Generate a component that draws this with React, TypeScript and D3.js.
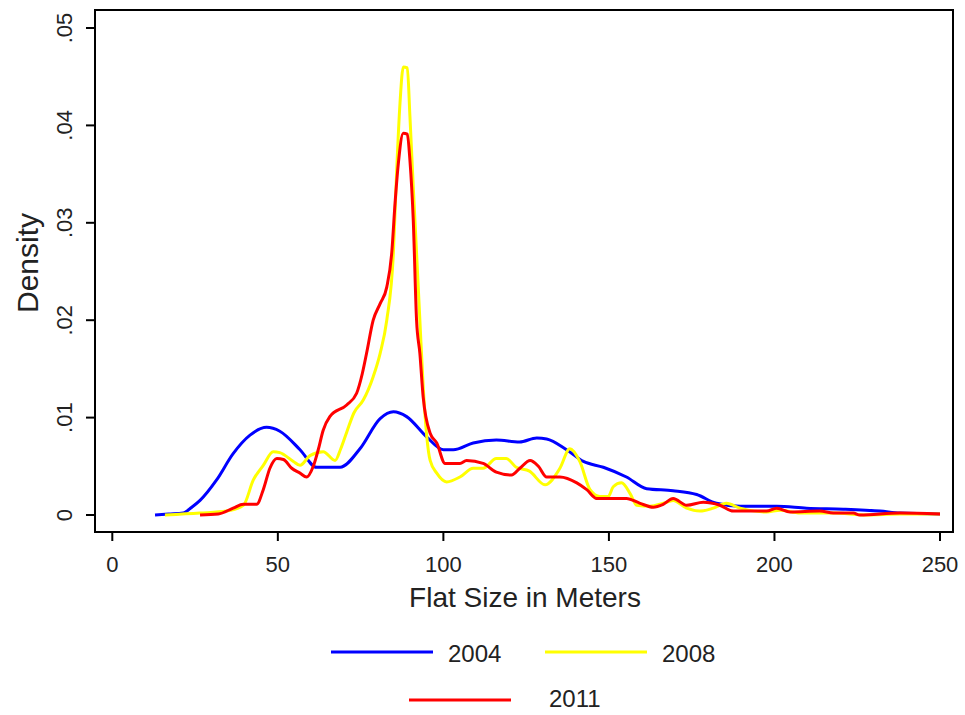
import React, { useEffect } from "react";
import * as d3 from "d3";

// density estimates: [flat size, density]
const density2004: [number, number][] = [
  [12.9, 0], [17, 0.0001], [21.4, 0.0002], [24, 0.0008], [26.5, 0.0015], [31.5, 0.0036],
  [36.5, 0.0063], [41.6, 0.0082], [46.6, 0.009], [50.6, 0.0086], [56.7, 0.0067], [61.7, 0.0049],
  [68.8, 0.0049], [74.8, 0.0068], [80.9, 0.0099], [84.9, 0.0106], [88.9, 0.0101], [95, 0.008],
  [100, 0.0067], [103, 0.0067], [109, 0.0074], [116, 0.0077], [123, 0.0075], [128.2, 0.0079],
  [131.2, 0.0078], [137.2, 0.0067], [142.3, 0.0055], [148.3, 0.0049], [155.3, 0.0039],
  [161.4, 0.0027], [169.4, 0.0025], [176.5, 0.0021], [182.5, 0.0012], [189.6, 0.0009],
  [200.7, 0.0009], [209.7, 0.0007], [220.8, 0.0006], [231.9, 0.0004], [237.9, 0.0002], [250, 0.0001],
];

const density2008: [number, number][] = [
  [15.9, 0], [26.5, 0.0002], [34.5, 0.0004], [39.6, 0.001], [42.6, 0.0036], [45.6, 0.0051],
  [48.6, 0.0065], [50.6, 0.0064], [54.7, 0.0055], [56.7, 0.0051], [59.7, 0.0061], [63.7, 0.0065],
  [67.3, 0.0056], [69, 0.0068], [70.8, 0.0085], [73, 0.0105], [75.8, 0.0118], [78.8, 0.0142],
  [80.9, 0.0166], [82.9, 0.02], [84.9, 0.0269], [85.9, 0.0354], [86.9, 0.0423], [87.9, 0.046],
  [89.1, 0.0459], [89.9, 0.0409], [90.9, 0.0337], [91.9, 0.0269], [92.9, 0.02], [93.9, 0.0132],
  [95, 0.008], [96, 0.0056], [98, 0.0043], [101, 0.0034], [105, 0.0039], [109, 0.0048],
  [112, 0.0048], [116, 0.0058], [119, 0.0058], [122, 0.0049], [126, 0.0045], [130.7, 0.0031],
  [135.2, 0.0048], [138.2, 0.0068], [141.2, 0.0055], [144.3, 0.0026], [147.3, 0.0019],
  [149.8, 0.0019], [151.3, 0.0029], [153.8, 0.0033], [156.4, 0.0022], [158.4, 0.001],
  [162.4, 0.0009], [166.4, 0.0012], [169.4, 0.0015], [173.5, 0.0007], [177.5, 0.0004],
  [181.5, 0.0007], [185.5, 0.0012], [189.6, 0.0007], [197.6, 0.0003], [201.7, 0.0005],
  [207.7, 0.0002], [217.8, 0.0002], [227.8, 0], [237.9, 0.0001], [250, 0.0001],
];

const density2011: [number, number][] = [
  [26.5, 0], [32, 0.0001], [36.5, 0.0007], [39.6, 0.0011], [43.6, 0.0011], [45.6, 0.0026],
  [47.6, 0.0048], [49.7, 0.0058], [51.7, 0.0057], [54.2, 0.0048], [56.7, 0.0043], [58.7, 0.0039],
  [60.7, 0.005], [62.2, 0.0067], [63.7, 0.0087], [65.7, 0.0101], [70.8, 0.0113], [73.8, 0.0125],
  [75.5, 0.0145], [76.8, 0.0166], [78.8, 0.02], [80.9, 0.0217], [82.9, 0.0234], [84.4, 0.0269],
  [85.4, 0.032], [86.4, 0.0361], [87.9, 0.0392], [89.1, 0.0391], [89.9, 0.0364], [90.9, 0.0303],
  [91.9, 0.02], [92.9, 0.0166], [93.9, 0.0121], [96, 0.0084], [98, 0.0074], [100.5, 0.0053],
  [105, 0.0053], [107, 0.0056], [112, 0.0053], [116, 0.0044], [120.6, 0.0041], [123.1, 0.0048],
  [126.2, 0.0056], [128.7, 0.005], [131.2, 0.0039], [135.2, 0.0039], [140.3, 0.0033],
  [143.3, 0.0026], [146.3, 0.0017], [155.3, 0.0017], [159.4, 0.0012], [163.4, 0.0008],
  [166.4, 0.0011], [169.4, 0.0017], [173.5, 0.001], [178.5, 0.0013], [183.5, 0.001],
  [187.6, 0.0004], [197.6, 0.0004], [200.7, 0.0007], [204.7, 0.0003], [213.7, 0.0004],
  [217.8, 0.0002], [223.8, 0.0002], [225.8, 0], [237.9, 0.0002], [250, 0.0001],
];

const xTicks = [0, 50, 100, 150, 200, 250];
const yTicks = [0, 0.01, 0.02, 0.03, 0.04, 0.05];
const yTickLabels = ["0", ".01", ".02", ".03", ".04", ".05"];

const seriesNames = ["2004", "2008", "2011"];
const seriesColors = ["#0000ff", "#ffff00", "#ff0000"];
const seriesData = [density2004, density2008, density2011];

const W = 965;
const H = 715;
const FONT = "'Liberation Sans', Arial, sans-serif";

const App = () => {
  useEffect(() => {
    document.body.style.margin = "0";
  }, []);

  // plot frame
  const frame = { left: 95, top: 10, right: 953, bottom: 532 };

  const x = d3.scaleLinear().domain([0, 250]).range([112.3, 940]);
  const y = d3.scaleLinear().domain([0, 0.05]).range([515, 28]);

  const line = d3
    .line<[number, number]>()
    .x((d) => x(d[0]))
    .y((d) => y(d[1]))
    .curve(d3.curveMonotoneX);

  // legend positions (row, line start)
  const legend = [
    { lx: 331, ly: 652, tx: 448, ty: 662 },
    { lx: 545, ly: 652, tx: 662, ty: 662 },
    { lx: 409, ly: 700, tx: 549, ty: 707 },
  ];

  return (
    <svg width={W} height={H} style={{ display: "block", background: "#fff" }}>
      <rect
        x={frame.left}
        y={frame.top}
        width={frame.right - frame.left}
        height={frame.bottom - frame.top}
        fill="#fff"
        stroke="#000"
        strokeWidth={2}
      />

      {seriesData.map((d, i) => (
        <path
          key={seriesNames[i]}
          d={line(d) || ""}
          fill="none"
          stroke={seriesColors[i]}
          strokeWidth={3}
          strokeLinejoin="round"
        />
      ))}

      {/* y axis */}
      {yTicks.map((t, i) => (
        <g key={"y" + t}>
          <line x1={frame.left - 9} x2={frame.left} y1={y(t)} y2={y(t)} stroke="#000" strokeWidth={2} />
          <text
            transform={`translate(72,${y(t)}) rotate(-90)`}
            textAnchor="middle"
            fontFamily={FONT}
            fontSize={22}
            fill="#222"
          >
            {yTickLabels[i]}
          </text>
        </g>
      ))}

      {/* x axis */}
      {xTicks.map((t) => (
        <g key={"x" + t}>
          <line x1={x(t)} x2={x(t)} y1={frame.bottom} y2={frame.bottom + 9} stroke="#000" strokeWidth={2} />
          <text x={x(t)} y={572} textAnchor="middle" fontFamily={FONT} fontSize={22} fill="#222">
            {t}
          </text>
        </g>
      ))}

      <text x={525} y={607} textAnchor="middle" fontFamily={FONT} fontSize={28} fill="#222">
        Flat Size in Meters
      </text>
      <text
        transform="translate(38,263) rotate(-90)"
        textAnchor="middle"
        fontFamily={FONT}
        fontSize={30}
        fill="#222"
      >
        Density
      </text>

      {/* legend */}
      {legend.map((p, i) => (
        <g key={"leg" + i}>
          <line x1={p.lx} x2={p.lx + 102} y1={p.ly} y2={p.ly} stroke={seriesColors[i]} strokeWidth={3} />
          <text x={p.tx} y={p.ty} fontFamily={FONT} fontSize={24} fill="#222">
            {seriesNames[i]}
          </text>
        </g>
      ))}
    </svg>
  );
};

export default App;
